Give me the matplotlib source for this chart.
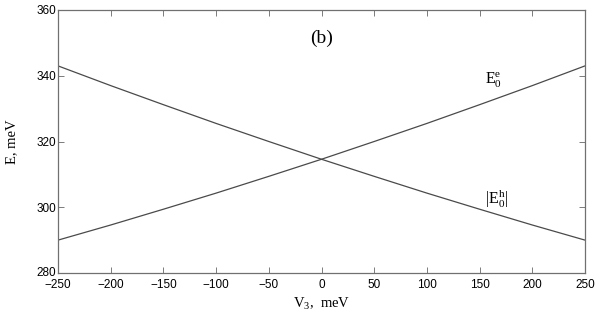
import matplotlib
matplotlib.use("Agg")
import matplotlib.pyplot as plt
import matplotlib.transforms as mtransforms

# Data
V = [-250, -200, -150, -100, -50, 0, 50, 100, 150, 200, 250]
E_e = [290.0, 294.6, 299.4, 304.3, 309.4, 314.6, 320.0, 325.5, 331.2, 337.0, 343.0]
E_h = [343.0, 337.0, 331.2, 325.5, 320.0, 314.6, 309.4, 304.3, 299.4, 294.6, 290.0]
x_ticks = [-250, -200, -150, -100, -50, 0, 50, 100, 150, 200, 250]
y_ticks = [280, 300, 320, 340, 360]

plt.rcParams['mathtext.fontset'] = 'custom'
plt.rcParams['mathtext.rm'] = 'Liberation Serif'
plt.rcParams['mathtext.it'] = 'Liberation Serif'

fig = plt.figure(figsize=(6.0, 3.21), dpi=100)
ax = fig.add_axes([58/600, 1 - 273/321, (585-58)/600, (273-10)/321])

line_color = '#4a4a4a'
ax.plot(V, E_e, color=line_color, lw=0.9)
ax.plot(V, E_h, color=line_color, lw=0.9)

ax.set_xlim(-250, 250)
ax.set_ylim(280, 360)
ax.set_xticks(x_ticks)
ax.set_yticks(y_ticks)
ax.set_xticklabels([str(t).replace('-', '\u2212') for t in x_ticks],
                   fontfamily='Liberation Sans', fontsize=8.5)
ax.set_yticklabels([str(t) for t in y_ticks], fontfamily='Liberation Sans', fontsize=8.5)
ax.tick_params(direction='in', top=True, right=True, length=4, width=0.6,
               color='#666666')
ax.tick_params(axis='x', pad=4)
ax.tick_params(axis='y', pad=1.5)
for s in ax.spines.values():
    s.set_color('#707070')
    s.set_linewidth(0.9)

# nudge the lowest y tick label up slightly, as in the reference
lbl = ax.get_yticklabels()[0]
lbl.set_transform(lbl.get_transform() +
                  mtransforms.ScaledTranslation(0, 2/100, fig.dpi_scale_trans))

ax.set_xlabel(r'V$_3$,  meV', fontfamily='Liberation Serif', fontsize=10.5, labelpad=4)
ax.set_ylabel('E, meV', fontfamily='Liberation Serif', fontsize=10.5, labelpad=13)

ax.text(0, 351.5, '(b)', fontfamily='Liberation Serif', fontsize=14,
        ha='center', va='center')
ax.text(163, 338.5, r'$\mathrm{E}_0^{\mathrm{e}}$', fontsize=11.5, ha='center', va='center')
ax.text(166, 302.5, r'$|\mathrm{E}_0^{\mathrm{h}}|$', fontsize=11.5, ha='center', va='center')

fig.savefig('out.png', dpi=100)
